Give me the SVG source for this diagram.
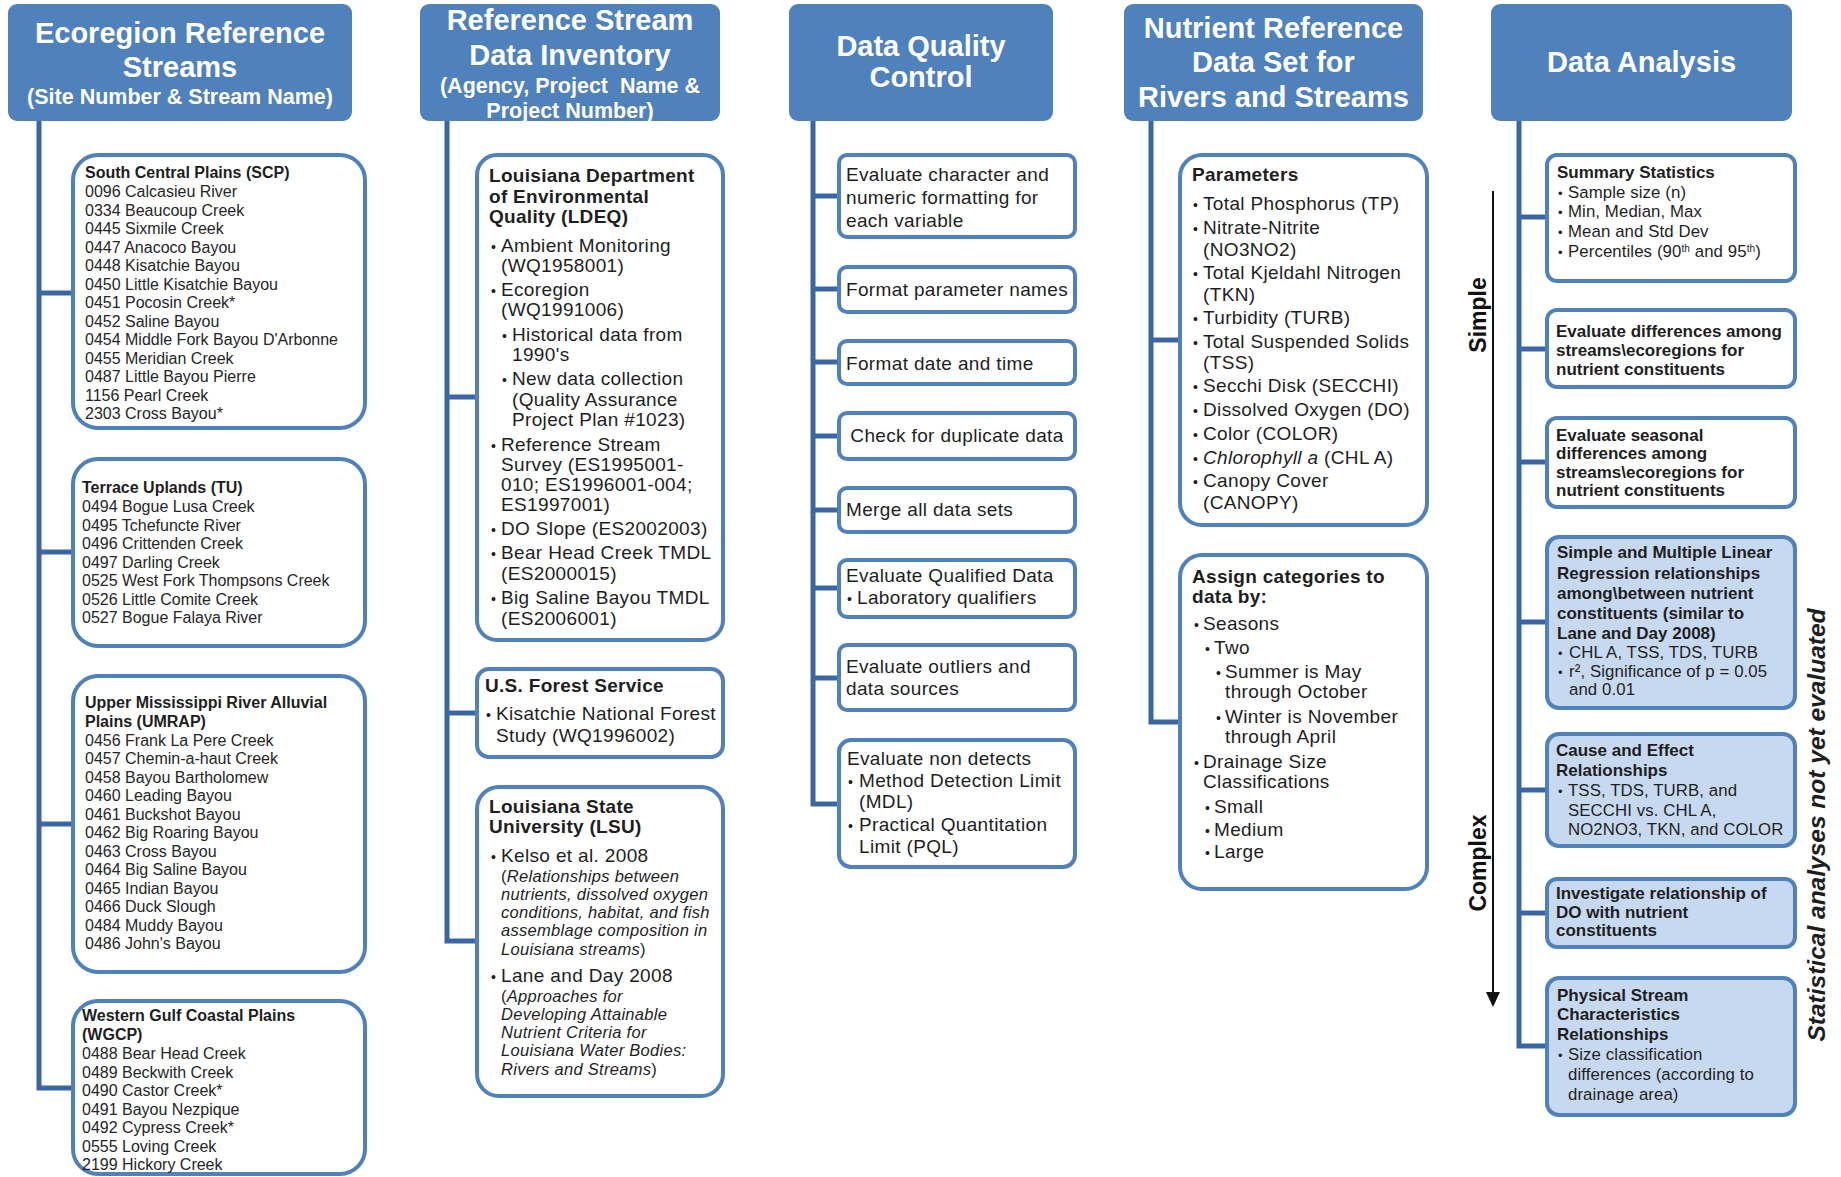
<svg xmlns="http://www.w3.org/2000/svg" width="1841" height="1177" viewBox="0 0 1841 1177">
<style>
.hdr{fill:#4F81BD;}
.box{fill:#fff;stroke:#4F81BD;stroke-width:4;}
.boxf{fill:#C6D9F1;stroke:#4F81BD;stroke-width:4;}
.conn{fill:none;stroke:#3A67A3;stroke-width:5;}
text{font-family:"Liberation Sans",Arial,sans-serif;fill:#1e1e1e;}
.ht{font-weight:bold;fill:#fff;text-anchor:middle;font-size:29px;}
.hs{font-weight:bold;fill:#fff;text-anchor:middle;font-size:21.5px;}
.c1{font-size:16px;fill:#262626;}
.c1b{font-size:16px;font-weight:bold;}
.m{font-size:19px;letter-spacing:0.35px;}
.mb{font-size:19px;font-weight:bold;letter-spacing:0.3px;}
.it{font-size:16.5px;letter-spacing:0.3px;}
.it tspan.i{font-style:italic;}
.s{font-size:16.8px;letter-spacing:0.1px;}
.sb{font-size:17px;font-weight:bold;}
.bu{font-size:14px;letter-spacing:0;}
.s .bu{font-size:13px;}
.rot{font-size:23px;font-weight:bold;text-anchor:middle;fill:#111;}
</style>

<g id="connectors">
<path class="conn" d="M39,121 V1088 H73 M39,293 H73 M39,552 H73 M39,824 H73"/>
<path class="conn" d="M447,121 V941 H477 M447,397 H477 M447,713 H477"/>
<path class="conn" d="M813,121 V804 H839 M813,196 H839 M813,289 H839 M813,362 H839 M813,436 H839 M813,510 H839 M813,588 H839 M813,678 H839"/>
<path class="conn" d="M1151,121 V722 H1180 M1151,340 H1180"/>
<path class="conn" d="M1519,121 V1046 H1547 M1519,217 H1547 M1519,349 H1547 M1519,462 H1547 M1519,622 H1547 M1519,790 H1547 M1519,913 H1547"/>
</g>

<!-- Column 1 -->
<g id="h1">
<rect class="hdr" x="8" y="4" width="344" height="117" rx="9"/>
<text class="ht" x="180" y="43">Ecoregion Reference</text>
<text class="ht" x="180" y="77">Streams</text>
<text class="hs" x="180" y="104">(Site Number &amp; Stream Name)</text>
</g>
<g id="scp">
<rect class="box" x="73" y="155" width="292" height="273" rx="25"/>
<text class="c1b" x="85" y="178">South Central Plains (SCP)</text>
<text class="c1" x="85" y="197">0096 Calcasieu River</text>
<text class="c1" x="85" y="215.5">0334 Beaucoup Creek</text>
<text class="c1" x="85" y="234">0445 Sixmile Creek</text>
<text class="c1" x="85" y="252.5">0447 Anacoco Bayou</text>
<text class="c1" x="85" y="271">0448 Kisatchie Bayou</text>
<text class="c1" x="85" y="289.5">0450 Little Kisatchie Bayou</text>
<text class="c1" x="85" y="308">0451 Pocosin Creek*</text>
<text class="c1" x="85" y="326.5">0452 Saline Bayou</text>
<text class="c1" x="85" y="345">0454 Middle Fork Bayou D'Arbonne</text>
<text class="c1" x="85" y="363.5">0455 Meridian Creek</text>
<text class="c1" x="85" y="382">0487 Little Bayou Pierre</text>
<text class="c1" x="85" y="400.5">1156 Pearl Creek</text>
<text class="c1" x="85" y="419">2303 Cross Bayou*</text>
</g>
<g id="tu">
<rect class="box" x="73" y="459" width="292" height="187" rx="25"/>
<text class="c1b" x="82" y="493">Terrace Uplands (TU)</text>
<text class="c1" x="82" y="512">0494 Bogue Lusa Creek</text>
<text class="c1" x="82" y="530.5">0495 Tchefuncte River</text>
<text class="c1" x="82" y="549">0496 Crittenden Creek</text>
<text class="c1" x="82" y="567.5">0497 Darling Creek</text>
<text class="c1" x="82" y="586">0525 West Fork Thompsons Creek</text>
<text class="c1" x="82" y="604.5">0526 Little Comite Creek</text>
<text class="c1" x="82" y="623">0527 Bogue Falaya River</text>
</g>
<g id="umrap">
<rect class="box" x="73" y="676" width="292" height="296" rx="25"/>
<text class="c1b" x="85" y="708">Upper Mississippi River Alluvial</text>
<text class="c1b" x="85" y="727">Plains (UMRAP)</text>
<text class="c1" x="85" y="745.5">0456 Frank La Pere Creek</text>
<text class="c1" x="85" y="764">0457 Chemin-a-haut Creek</text>
<text class="c1" x="85" y="782.5">0458 Bayou Bartholomew</text>
<text class="c1" x="85" y="801">0460 Leading Bayou</text>
<text class="c1" x="85" y="819.5">0461 Buckshot Bayou</text>
<text class="c1" x="85" y="838">0462 Big Roaring Bayou</text>
<text class="c1" x="85" y="856.5">0463 Cross Bayou</text>
<text class="c1" x="85" y="875">0464 Big Saline Bayou</text>
<text class="c1" x="85" y="893.5">0465 Indian Bayou</text>
<text class="c1" x="85" y="912">0466 Duck Slough</text>
<text class="c1" x="85" y="930.5">0484 Muddy Bayou</text>
<text class="c1" x="85" y="949">0486 John's Bayou</text>
</g>
<g id="wgcp">
<rect class="box" x="73" y="1001" width="292" height="173" rx="25"/>
<text class="c1b" x="82" y="1021">Western Gulf Coastal Plains</text>
<text class="c1b" x="82" y="1040">(WGCP)</text>
<text class="c1" x="82" y="1059">0488 Bear Head Creek</text>
<text class="c1" x="82" y="1077.5">0489 Beckwith Creek</text>
<text class="c1" x="82" y="1096">0490 Castor Creek*</text>
<text class="c1" x="82" y="1114.5">0491 Bayou Nezpique</text>
<text class="c1" x="82" y="1133">0492 Cypress Creek*</text>
<text class="c1" x="82" y="1151.5">0555 Loving Creek</text>
<text class="c1" x="82" y="1170">2199 Hickory Creek</text>
</g>

<!-- Column 2 -->
<g id="h2">
<rect class="hdr" x="420" y="4" width="300" height="117" rx="9"/>
<text class="ht" x="570" y="30">Reference Stream</text>
<text class="ht" x="570" y="65">Data Inventory</text>
<text class="hs" x="570" y="93" xml:space="preserve">(Agency, Project  Name &amp;</text>
<text class="hs" x="570" y="118">Project Number)</text>
</g>
<g id="ldeq">
<rect class="box" x="477" y="155" width="246" height="485" rx="20"/>
<text class="mb" x="489" y="182">Louisiana Department</text>
<text class="mb" x="489" y="203">of Environmental</text>
<text class="mb" x="489" y="223">Quality (LDEQ)</text>
<text class="m" y="252"><tspan class="bu" x="491">•</tspan><tspan x="501">Ambient Monitoring</tspan></text>
<text class="m" x="501" y="272">(WQ1958001)</text>
<text class="m" y="296"><tspan class="bu" x="491">•</tspan><tspan x="501">Ecoregion</tspan></text>
<text class="m" x="501" y="316">(WQ1991006)</text>
<text class="m" y="341"><tspan class="bu" x="502">•</tspan><tspan x="512">Historical data from</tspan></text>
<text class="m" x="512" y="361">1990's</text>
<text class="m" y="385"><tspan class="bu" x="502">•</tspan><tspan x="512">New data collection</tspan></text>
<text class="m" x="512" y="406">(Quality Assurance</text>
<text class="m" x="512" y="426">Project Plan #1023)</text>
<text class="m" y="451"><tspan class="bu" x="491">•</tspan><tspan x="501">Reference Stream</tspan></text>
<text class="m" x="501" y="471">Survey (ES1995001-</text>
<text class="m" x="501" y="491">010; ES1996001-004;</text>
<text class="m" x="501" y="511">ES1997001)</text>
<text class="m" y="535"><tspan class="bu" x="491">•</tspan><tspan x="501">DO Slope (ES2002003)</tspan></text>
<text class="m" y="559"><tspan class="bu" x="491">•</tspan><tspan x="501">Bear Head Creek TMDL</tspan></text>
<text class="m" x="501" y="580">(ES2000015)</text>
<text class="m" y="604"><tspan class="bu" x="491">•</tspan><tspan x="501">Big Saline Bayou TMDL</tspan></text>
<text class="m" x="501" y="625">(ES2006001)</text>
</g>
<g id="usfs">
<rect class="box" x="477" y="669" width="246" height="88" rx="12"/>
<text class="mb" x="485" y="692">U.S. Forest Service</text>
<text class="m" y="720"><tspan class="bu" x="486">•</tspan><tspan x="496">Kisatchie National Forest</tspan></text>
<text class="m" x="496" y="742">Study (WQ1996002)</text>
</g>
<g id="lsu">
<rect class="box" x="477" y="787" width="246" height="309" rx="22"/>
<text class="mb" x="489" y="813">Louisiana State</text>
<text class="mb" x="489" y="833">University (LSU)</text>
<text class="m" y="862"><tspan class="bu" x="491">•</tspan><tspan x="501">Kelso et al. 2008</tspan></text>
<text class="it" x="501" y="882">(<tspan class="i">Relationships between</tspan></text>
<text class="it" x="501" y="900"><tspan class="i">nutrients, dissolved oxygen</tspan></text>
<text class="it" x="501" y="918"><tspan class="i">conditions, habitat, and fish</tspan></text>
<text class="it" x="501" y="936"><tspan class="i">assemblage composition in</tspan></text>
<text class="it" x="501" y="955"><tspan class="i">Louisiana streams</tspan>)</text>
<text class="m" y="982"><tspan class="bu" x="491">•</tspan><tspan x="501">Lane and Day 2008</tspan></text>
<text class="it" x="501" y="1002">(<tspan class="i">Approaches for</tspan></text>
<text class="it" x="501" y="1020"><tspan class="i">Developing Attainable</tspan></text>
<text class="it" x="501" y="1038"><tspan class="i">Nutrient Criteria for</tspan></text>
<text class="it" x="501" y="1056"><tspan class="i">Louisiana Water Bodies:</tspan></text>
<text class="it" x="501" y="1075"><tspan class="i">Rivers and Streams</tspan>)</text>
</g>

<!-- Column 3 -->
<g id="h3">
<rect class="hdr" x="789" y="4" width="264" height="117" rx="9"/>
<text class="ht" x="921" y="56">Data Quality</text>
<text class="ht" x="921" y="87">Control</text>
</g>
<g id="q1">
<rect class="box" x="839" y="155" width="236" height="82" rx="8"/>
<text class="m" x="846" y="181">Evaluate character and</text>
<text class="m" x="846" y="204">numeric formatting for</text>
<text class="m" x="846" y="227">each variable</text>
</g>
<g id="q2">
<rect class="box" x="839" y="267" width="236" height="45" rx="8"/>
<text class="m" x="846" y="296">Format parameter names</text>
</g>
<g id="q3">
<rect class="box" x="839" y="341" width="236" height="43" rx="8"/>
<text class="m" x="846" y="370">Format date and time</text>
</g>
<g id="q4">
<rect class="box" x="839" y="413" width="236" height="46" rx="8"/>
<text class="m" x="957" y="442" text-anchor="middle">Check for duplicate data</text>
</g>
<g id="q5">
<rect class="box" x="839" y="488" width="236" height="44" rx="8"/>
<text class="m" x="846" y="516">Merge all data sets</text>
</g>
<g id="q6">
<rect class="box" x="839" y="560" width="236" height="57" rx="8"/>
<text class="m" x="846" y="582">Evaluate Qualified Data</text>
<text class="m" y="604"><tspan class="bu" x="847">•</tspan><tspan x="857">Laboratory qualifiers</tspan></text>
</g>
<g id="q7">
<rect class="box" x="839" y="645" width="236" height="65" rx="8"/>
<text class="m" x="846" y="673">Evaluate outliers and</text>
<text class="m" x="846" y="695">data sources</text>
</g>
<g id="q8">
<rect class="box" x="839" y="740" width="236" height="127" rx="12"/>
<text class="m" x="847" y="765">Evaluate non detects</text>
<text class="m" y="787"><tspan class="bu" x="848">•</tspan><tspan x="859">Method Detection Limit</tspan></text>
<text class="m" x="859" y="808">(MDL)</text>
<text class="m" y="831"><tspan class="bu" x="848">•</tspan><tspan x="859">Practical Quantitation</tspan></text>
<text class="m" x="859" y="853">Limit (PQL)</text>
</g>

<!-- Column 4 -->
<g id="h4">
<rect class="hdr" x="1124" y="4" width="299" height="117" rx="9"/>
<text class="ht" x="1273.5" y="38">Nutrient Reference</text>
<text class="ht" x="1273.5" y="72">Data Set for</text>
<text class="ht" x="1273.5" y="107">Rivers and Streams</text>
</g>
<g id="params">
<rect class="box" x="1180" y="155" width="247" height="370" rx="22"/>
<text class="mb" x="1192" y="181">Parameters</text>
<text class="m" y="210"><tspan class="bu" x="1193">•</tspan><tspan x="1203">Total Phosphorus (TP)</tspan></text>
<text class="m" y="234"><tspan class="bu" x="1193">•</tspan><tspan x="1203">Nitrate-Nitrite</tspan></text>
<text class="m" x="1203" y="256">(NO3NO2)</text>
<text class="m" y="279"><tspan class="bu" x="1193">•</tspan><tspan x="1203">Total Kjeldahl Nitrogen</tspan></text>
<text class="m" x="1203" y="301">(TKN)</text>
<text class="m" y="324"><tspan class="bu" x="1193">•</tspan><tspan x="1203">Turbidity (TURB)</tspan></text>
<text class="m" y="348"><tspan class="bu" x="1193">•</tspan><tspan x="1203">Total Suspended Solids</tspan></text>
<text class="m" x="1203" y="369">(TSS)</text>
<text class="m" y="392"><tspan class="bu" x="1193">•</tspan><tspan x="1203">Secchi Disk (SECCHI)</tspan></text>
<text class="m" y="416"><tspan class="bu" x="1193">•</tspan><tspan x="1203">Dissolved Oxygen (DO)</tspan></text>
<text class="m" y="440"><tspan class="bu" x="1193">•</tspan><tspan x="1203">Color (COLOR)</tspan></text>
<text class="m" y="464"><tspan class="bu" x="1193">•</tspan><tspan x="1203" font-style="italic">Chlorophyll a</tspan> (CHL A)</text>
<text class="m" y="487"><tspan class="bu" x="1193">•</tspan><tspan x="1203">Canopy Cover</tspan></text>
<text class="m" x="1203" y="509">(CANOPY)</text>
</g>
<g id="assign">
<rect class="box" x="1180" y="555" width="247" height="334" rx="22"/>
<text class="mb" x="1192" y="583">Assign categories to</text>
<text class="mb" x="1192" y="603">data by:</text>
<text class="m" y="630"><tspan class="bu" x="1194">•</tspan><tspan x="1203">Seasons</tspan></text>
<text class="m" y="654"><tspan class="bu" x="1205">•</tspan><tspan x="1214">Two</tspan></text>
<text class="m" y="678"><tspan class="bu" x="1216">•</tspan><tspan x="1225">Summer is May</tspan></text>
<text class="m" x="1225" y="698">through October</text>
<text class="m" y="723"><tspan class="bu" x="1216">•</tspan><tspan x="1225">Winter is November</tspan></text>
<text class="m" x="1225" y="743">through April</text>
<text class="m" y="768"><tspan class="bu" x="1194">•</tspan><tspan x="1203">Drainage Size</tspan></text>
<text class="m" x="1203" y="788">Classifications</text>
<text class="m" y="813"><tspan class="bu" x="1205">•</tspan><tspan x="1214">Small</tspan></text>
<text class="m" y="836"><tspan class="bu" x="1205">•</tspan><tspan x="1214">Medium</tspan></text>
<text class="m" y="858"><tspan class="bu" x="1205">•</tspan><tspan x="1214">Large</tspan></text>
</g>

<!-- Column 5 -->
<g id="h5">
<rect class="hdr" x="1491" y="4" width="301" height="117" rx="9"/>
<text class="ht" x="1641.5" y="72">Data Analysis</text>
</g>
<g id="a1">
<rect class="box" x="1547" y="155" width="248" height="126" rx="10"/>
<text class="sb" x="1557" y="178">Summary Statistics</text>
<text class="s" y="198"><tspan class="bu" x="1558">•</tspan><tspan x="1568">Sample size (n)</tspan></text>
<text class="s" y="217"><tspan class="bu" x="1558">•</tspan><tspan x="1568">Min, Median, Max</tspan></text>
<text class="s" y="237"><tspan class="bu" x="1558">•</tspan><tspan x="1568">Mean and Std Dev</tspan></text>
<text class="s" y="257"><tspan class="bu" x="1558">•</tspan><tspan x="1568">Percentiles (90<tspan baseline-shift="super" font-size="10">th</tspan> and 95<tspan baseline-shift="super" font-size="10">th</tspan>)</tspan></text>
</g>
<g id="a2">
<rect class="box" x="1547" y="310" width="248" height="77" rx="10"/>
<text class="sb" x="1556" y="337">Evaluate differences among</text>
<text class="sb" x="1556" y="356">streams\ecoregions for</text>
<text class="sb" x="1556" y="375">nutrient constituents</text>
</g>
<g id="a3">
<rect class="box" x="1547" y="418" width="248" height="89" rx="10"/>
<text class="sb" x="1556" y="441">Evaluate seasonal</text>
<text class="sb" x="1556" y="459">differences among</text>
<text class="sb" x="1556" y="478">streams\ecoregions for</text>
<text class="sb" x="1556" y="496">nutrient constituents</text>
</g>
<g id="a4">
<rect class="boxf" x="1547" y="537" width="248" height="171" rx="12"/>
<text class="sb" x="1557" y="558">Simple and Multiple Linear</text>
<text class="sb" x="1557" y="579">Regression relationships</text>
<text class="sb" x="1557" y="599">among\between nutrient</text>
<text class="sb" x="1557" y="619">constituents (similar to</text>
<text class="sb" x="1557" y="639">Lane and Day 2008)</text>
<text class="s" y="658"><tspan class="bu" x="1558">•</tspan><tspan x="1569">CHL A, TSS, TDS, TURB</tspan></text>
<text class="s" y="677"><tspan class="bu" x="1558">•</tspan><tspan x="1569">r², Significance of p = 0.05</tspan></text>
<text class="s" x="1569" y="695">and 0.01</text>
</g>
<g id="a5">
<rect class="boxf" x="1547" y="734" width="248" height="112" rx="12"/>
<text class="sb" x="1556" y="756">Cause and Effect</text>
<text class="sb" x="1556" y="776">Relationships</text>
<text class="s" y="796"><tspan class="bu" x="1558">•</tspan><tspan x="1568">TSS, TDS, TURB, and</tspan></text>
<text class="s" x="1568" y="816">SECCHI vs. CHL A,</text>
<text class="s" x="1568" y="835">NO2NO3, TKN, and COLOR</text>
</g>
<g id="a6">
<rect class="boxf" x="1547" y="879" width="248" height="68" rx="10"/>
<text class="sb" x="1556" y="899">Investigate relationship of</text>
<text class="sb" x="1556" y="918">DO with nutrient</text>
<text class="sb" x="1556" y="936">constituents</text>
</g>
<g id="a7">
<rect class="boxf" x="1547" y="978" width="248" height="137" rx="12"/>
<text class="sb" x="1557" y="1001">Physical Stream</text>
<text class="sb" x="1557" y="1020">Characteristics</text>
<text class="sb" x="1557" y="1040">Relationships</text>
<text class="s" y="1060"><tspan class="bu" x="1558">•</tspan><tspan x="1568">Size classification</tspan></text>
<text class="s" x="1568" y="1080">differences (according to</text>
<text class="s" x="1568" y="1100">drainage area)</text>
</g>

<g id="complexity-axis">
<line x1="1493" y1="191" x2="1493" y2="994" stroke="#111" stroke-width="2"/>
<polygon points="1486,992 1500,992 1493,1007" fill="#111"/>
<text class="rot" transform="translate(1486,315) rotate(-90)">Simple</text>
<text class="rot" transform="translate(1486,863) rotate(-90)">Complex</text>
</g>
<g id="note">
<text transform="translate(1825,825) rotate(-90)" text-anchor="middle" font-size="24.5" font-weight="bold" font-style="italic" fill="#111">Statistical analyses not yet evaluated</text>
</g>
</svg>
